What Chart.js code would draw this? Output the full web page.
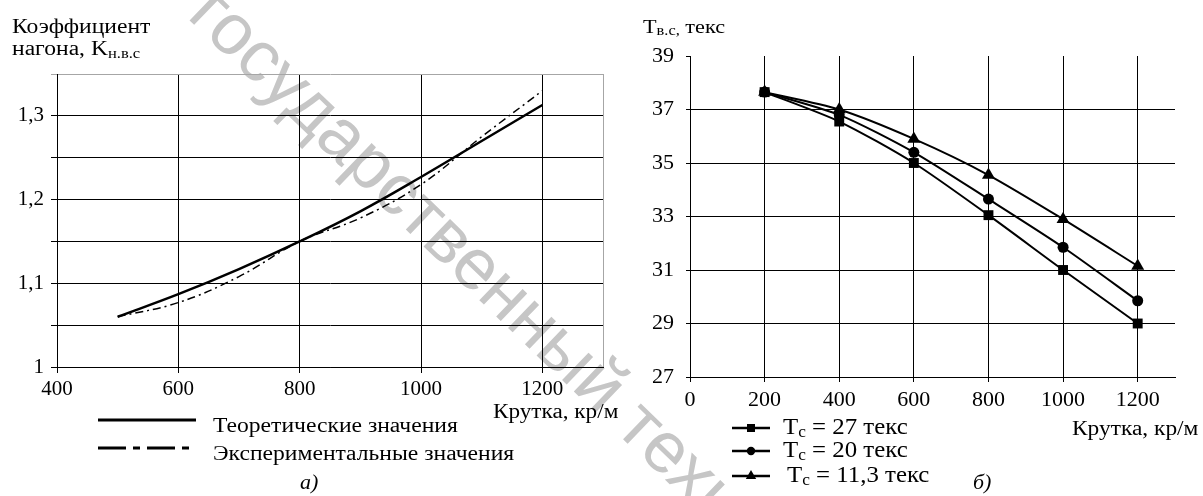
<!DOCTYPE html>
<html>
<head>
<meta charset="utf-8">
<script src="https://cdn.jsdelivr.net/npm/chart.js@4.4.1/dist/chart.umd.min.js"></script>
<style>
    html, body { margin: 0; padding: 0; background: #fff; }
    #page { position: relative; width: 1203px; height: 496px; overflow: hidden; background: #fff; }
    .wm {
        position: absolute; left: 186px; top: -44px;
        font: 72px 'Liberation Sans', Arial, sans-serif; line-height: 1;
        color: #c6c6c6; white-space: nowrap;
        transform-origin: 0 61px; transform: rotate(44deg);
    }
    .wm .pre { position: absolute; right: 100%; top: 0; padding-right: 0.28em; }
    .box { position: absolute; top: 0; height: 496px; z-index: 2; }
    #boxA { left: 0; width: 640px; }
    #boxB { left: 640px; width: 563px; }
</style>
</head>
<body>
<div id="page">
    <div class="wm"><span class="pre">Витебский</span>государственный технологический университет</div>
    <div class="box" id="boxA"><canvas id="chartA"></canvas></div>
    <div class="box" id="boxB"><canvas id="chartB"></canvas></div>
</div>
<script>
// а) коэффициент нагона
const krutkaA = [500, 600, 700, 800, 900, 1000, 1100, 1200];
const kTheor = [1.060, 1.087, 1.117, 1.150, 1.186, 1.227, 1.270, 1.313];
const kExper = [1.060, 1.077, 1.108, 1.150, 1.178, 1.218, 1.275, 1.330];
const xTicksA = [400, 600, 800, 1000, 1200, 1300];
const xLabelsA = ['400', '600', '800', '1000', '1200', ''];
const yTicksA = [1, 1.05, 1.1, 1.15, 1.2, 1.25, 1.3, 1.35];
const yLabelsA = ['1', '', '1,1', '', '1,2', '', '1,3', ''];

// б) линейная плотность
const krutkaB = [200, 400, 600, 800, 1000, 1200];
const t27 = [37.65, 36.55, 35.0, 33.05, 31.0, 29.0];
const t20 = [37.65, 36.8, 35.4, 33.65, 31.85, 29.85];
const t113 = [37.65, 37.0, 35.9, 34.55, 32.9, 31.15];
const xTicksB = [0, 200, 400, 600, 800, 1000, 1200];
const yTicksB = [27, 29, 31, 33, 35, 37, 39];

const SERIF = "'Liberation Serif', 'Times New Roman', serif";
Chart.defaults.font.family = SERIF;
Chart.defaults.color = '#000';

function pts(xs, ys) {
    return xs.map((x, i) => ({ x: x, y: ys[i] }));
}

// текст с подстрочными индексами, слегка растянутый по ширине как в оригинале
function drawRuns(ctx, x, y, parts, sx) {
    ctx.save();
    ctx.translate(x, y);
    ctx.scale(sx, 1);
    ctx.fillStyle = '#000';
    ctx.textAlign = 'left';
    ctx.textBaseline = 'alphabetic';
    let cx = 0;
    parts.forEach(p => {
        ctx.font = p.font;
        ctx.fillText(p.t, cx, p.dy || 0);
        cx += ctx.measureText(p.t).width;
    });
    ctx.restore();
}

function marker(ctx, style, r, x, y) {
    ctx.save();
    ctx.fillStyle = '#000';
    if (Chart.helpers && Chart.helpers.drawPoint) {
        Chart.helpers.drawPoint(ctx, { pointStyle: style, radius: r, rotation: 0, borderWidth: 0 }, x, y);
    }
    ctx.restore();
}

const textA = {
    id: 'textA',
    afterDraw(chart) {
        const ctx = chart.ctx;
        const f = '20px ' + SERIF;
        const fs = '14px ' + SERIF;
        drawRuns(ctx, 12, 33, [{ t: 'Коэффициент', font: f }], 1.18);
        drawRuns(ctx, 12, 55, [{ t: 'нагона, K', font: f }, { t: 'н.в.с', font: fs, dy: 3 }], 1.18);
        drawRuns(ctx, 493, 418, [{ t: 'Крутка, кр/м', font: f }], 1.16);

        // легенда
        const ds = chart.data.datasets;
        const rows = [420, 448];
        ds.forEach((d, i) => {
            ctx.save();
            ctx.strokeStyle = '#000';
            ctx.lineWidth = 3;
            ctx.setLineDash(d.borderDash ? [28, 7, 7, 7] : []);
            ctx.beginPath();
            ctx.moveTo(98, rows[i]);
            ctx.lineTo(196, rows[i]);
            ctx.stroke();
            ctx.restore();
            drawRuns(ctx, 213, rows[i] + 12, [{ t: d.label, font: f }], 1.18);
        });
        drawRuns(ctx, 300, 489, [{ t: 'а)', font: 'italic 20px ' + SERIF }], 1.1);
    }
};

const textB = {
    id: 'textB',
    afterDraw(chart) {
        const ctx = chart.ctx;
        const ox = 640;
        drawRuns(ctx, 643 - ox, 33, [
            { t: 'T', font: '19px ' + SERIF },
            { t: 'в.с,', font: '14px ' + SERIF, dy: 2 },
            { t: ' текс', font: '19px ' + SERIF }
        ], 1.17);
        drawRuns(ctx, 1072 - ox, 435, [{ t: 'Крутка, кр/м', font: '20px ' + SERIF }], 1.17);
        drawRuns(ctx, 973 - ox, 489, [{ t: 'б)', font: 'italic 20px ' + SERIF }], 1.1);

        // легенда: линия с маркером
        const rows = [428, 451, 476];
        const radii = [5.7, 4.2, 6];
        chart.data.datasets.forEach((d, i) => {
            const y = rows[i];
            ctx.save();
            ctx.strokeStyle = '#000';
            ctx.lineWidth = 2.5;
            ctx.beginPath();
            ctx.moveTo(732 - ox, y);
            ctx.lineTo(770 - ox, y);
            ctx.stroke();
            ctx.restore();
            marker(ctx, d.pointStyle, radii[i], 751 - ox, y);
            const lab = d.label;
            drawRuns(ctx, (i === 2 ? 787 : 783) - ox, y + 6, [
                { t: lab[0], font: '23px ' + SERIF },
                { t: lab[1], font: '16px ' + SERIF, dy: 3 },
                { t: lab.slice(2), font: '23px ' + SERIF }
            ], 1.08);
        });
    }
};

const black = '#000';
const clear = 'rgba(0,0,0,0)';

new Chart(document.getElementById('chartA'), {
    type: 'line',
    data: {
        datasets: [{
            label: 'Теоретические значения',
            data: pts(krutkaA, kTheor),
            borderColor: black,
            borderWidth: 2.5,
            pointRadius: 0,
            tension: 0.4,
            fill: false
        }, {
            label: 'Экспериментальные значения',
            data: pts(krutkaA, kExper),
            borderColor: black,
            borderWidth: 1.5,
            borderDash: [8, 4, 2, 4],
            pointRadius: 0,
            tension: 0.4,
            fill: false
        }]
    },
    options: {
        responsive: true,
        maintainAspectRatio: false,
        animation: false,
        devicePixelRatio: 1,
        layout: { padding: { top: 74, right: 37, left: 0, bottom: 0 } },
        plugins: { legend: { display: false }, tooltip: { enabled: false } },
        scales: {
            x: {
                type: 'linear',
                min: 400,
                max: 1300,
                afterBuildTicks: s => { s.ticks = xTicksA.map(v => ({ value: v })); },
                afterFit: s => { s.height = 129; },
                ticks: {
                    autoSkip: false, maxRotation: 0, padding: 4,
                    font: { size: 21 }, color: black,
                    callback: (v, i) => xLabelsA[i]
                },
                grid: {
                    color: c => (c.tick && c.tick.value === 1300) ? '#a6a6a6' : black,
                    tickColor: c => (c.tick && c.tick.value === 1300) ? clear : black,
                    tickLength: 6,
                    lineWidth: 1
                },
                border: { color: black, width: 1 }
            },
            y: {
                type: 'linear',
                min: 1,
                max: 1.35,
                afterBuildTicks: s => { s.ticks = yTicksA.map(v => ({ value: v })); },
                afterFit: s => { s.width = 57; },
                ticks: {
                    autoSkip: false, padding: 7,
                    font: { size: 21 }, color: black,
                    callback: (v, i) => yLabelsA[i]
                },
                grid: {
                    color: c => (c.tick && c.tick.value === 1.35) ? '#a6a6a6' : black,
                    tickColor: c => (c.tick && c.tick.value === 1.35) ? '#a6a6a6' : black,
                    tickLength: 6,
                    lineWidth: 1
                },
                border: { color: black, width: 1 }
            }
        }
    },
    plugins: [textA]
});

new Chart(document.getElementById('chartB'), {
    type: 'line',
    data: {
        datasets: [{
            label: 'Тс = 27 текс',
            data: pts(krutkaB, t27),
            pointStyle: 'rect',
            pointRadius: 7
        }, {
            label: 'Тс = 20 текс',
            data: pts(krutkaB, t20),
            pointStyle: 'circle',
            pointRadius: 5.5
        }, {
            label: 'Тс = 11,3 текс',
            data: pts(krutkaB, t113),
            pointStyle: 'triangle',
            pointRadius: 7.5
        }].map(d => Object.assign(d, {
            borderColor: black,
            borderWidth: 2,
            pointBackgroundColor: black,
            pointBorderWidth: 0,
            tension: 0.25,
            fill: false
        }))
    },
    options: {
        responsive: true,
        maintainAspectRatio: false,
        animation: false,
        devicePixelRatio: 1,
        layout: { padding: { top: 56, right: 28, left: 0, bottom: 0 } },
        plugins: { legend: { display: false }, tooltip: { enabled: false } },
        scales: {
            x: {
                type: 'linear',
                min: 0,
                max: 1300,
                afterBuildTicks: s => { s.ticks = xTicksB.map(v => ({ value: v })); },
                afterFit: s => { s.height = 119; },
                ticks: {
                    autoSkip: false, maxRotation: 0, padding: 5,
                    font: { size: 22 }, color: black,
                    callback: v => String(v)
                },
                grid: { color: black, tickColor: black, tickLength: 5, lineWidth: 1 },
                border: { color: black, width: 1 }
            },
            y: {
                type: 'linear',
                min: 27,
                max: 39,
                afterBuildTicks: s => { s.ticks = yTicksB.map(v => ({ value: v })); },
                afterFit: s => { s.width = 50; },
                ticks: {
                    autoSkip: false, padding: 12,
                    font: { size: 22 }, color: black,
                    callback: v => String(v)
                },
                grid: {
                    color: c => (c.tick && c.tick.value === 39) ? clear : black,
                    tickColor: black,
                    tickLength: 4,
                    lineWidth: 1
                },
                border: { color: black, width: 1 }
            }
        }
    },
    plugins: [textB]
});
</script>
</body>
</html>
